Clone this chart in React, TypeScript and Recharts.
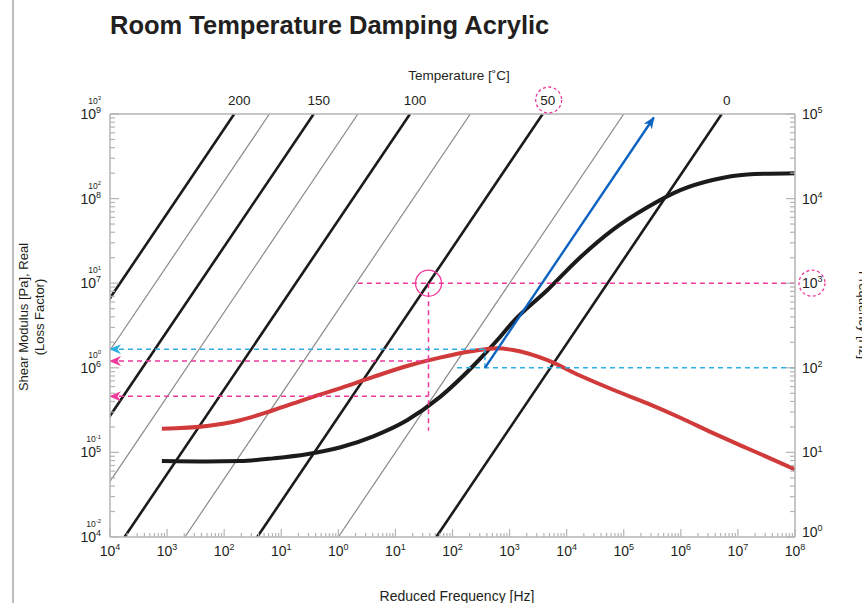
import React from 'react'
import { ComposedChart, Line, XAxis, YAxis, ReferenceDot } from 'recharts'

// isotherms: temperature [°C] and shift factor aT (reduced freq = freq * aT)
const TEMPS = [200, 175, 150, 125, 100, 75, 50, 25, 0]
const SHIFT = [1.5e-7, 6.2e-7, 3.7e-6, 2.2e-5, 1.8e-4, 2.05e-3, 0.038, 1, 52]

// master curves vs reduced frequency [Hz]
const FREQ = [8.1e-4, 5.0e-3, 0.019, 0.072, 0.28, 1.1, 4.1, 16, 60, 230, 600, 1150, 4600, 1.7e4, 6.5e4, 2.6e5, 9.8e5, 3.6e6, 1.45e7, 1e8]
const MODULUS = [7.9e4, 7.8e4, 7.9e4, 8.5e4, 9.5e4, 1.15e5, 1.55e5, 2.4e5, 4.5e5, 1.05e6, 2.1e6, 3.5e6, 8.3e6, 2.0e7, 4.3e7, 7.9e7, 1.26e8, 1.66e8, 1.93e8, 2.0e8]
const LOSS = [0.19, 0.205, 0.24, 0.315, 0.43, 0.575, 0.78, 1.05, 1.32, 1.58, 1.7, 1.62, 1.23, 0.81, 0.55, 0.38, 0.257, 0.17, 0.112, 0.063]

// worked example: 50 °C at 1000 Hz
const READ_TEMP = 50
const READ_HZ = 1000
const READ_FR = 38
const READ_LOSS = 1.2
const READ_MOD = 4.6e5
const READ_LINE_FROM = 2.2

// peak loss / room temperature reading
const PEAK_LOSS = 1.66
const PEAK_FR = 370
const ROOM_SHIFT = 3.7
const ROOM_HZ = 100
const ROOM_LINE_FROM = 120
const ARROW_TOP_HZ = 9.1e4

const X_DEC = [-4, -3, -2, -1, 0, 1, 2, 3, 4, 5, 6, 7, 8]
const MOD_DEC = [4, 5, 6, 7, 8, 9]
const HZ_DEC = [0, 1, 2, 3, 4, 5]
const LOSS_OFFSET = 6 // loss factor decade = modulus decade - 6

const X_DOMAIN = [1e-4, 1e8]
const MOD_DOMAIN = [1e4, 1e9]
const LOSS_DOMAIN = [1e-2, 1e3]
const HZ_DOMAIN = [1, 1e5]

const MARGIN = { top: 84, right: 17, bottom: 36, left: 40 }
const LEFT_W = 70
const PLOT_LEFT = MARGIN.left + LEFT_W

const INK = '#231f20'
const AXIS = '#b5b5b5'
const PINK = '#f0399a'
const CYAN = '#2cb0e4'
const BLUE = '#0d63c2'
const RED = '#d13a3a'
const FONT = '"Liberation Sans", Arial, Helvetica, sans-serif'

const withMinor = (decs: number[]) => {
  const out: number[] = []
  decs.forEach((d, i) => {
    out.push(Math.pow(10, d))
    if (i < decs.length - 1) for (let m = 2; m <= 9; m++) out.push(m * Math.pow(10, d))
  })
  return out
}
const decOf = (v: number) => {
  const l = Math.log10(v)
  const e = Math.round(l)
  return { e, major: Math.abs(l - e) < 1e-6 }
}

const curve = FREQ.map((x, i) => ({ x, mod: MODULUS[i], loss: LOSS[i] }))
const isotherms = TEMPS.map((t, i) => ({
  t, major: t % 50 === 0,
  data: [{ x: SHIFT[i] * HZ_DOMAIN[0], y: HZ_DOMAIN[0] }, { x: SHIFT[i] * HZ_DOMAIN[1], y: HZ_DOMAIN[1] }],
}))
const topTicks = isotherms.filter(d => d.major).map(d => d.data[1].x)

const Sup = ({ base, exp, size, supSize }: any) => (
  <>
    <tspan fontSize={size}>{base}</tspan>
    <tspan fontSize={supSize} dy={-size * 0.42}>{exp}</tspan>
  </>
)

const BottomTick = ({ x, y, payload }: any) => {
  const { e, major } = decOf(payload.value)
  return (
    <g>
      <line x1={x} x2={x} y1={y} y2={y - (major ? 8 : 4)} stroke={AXIS} strokeWidth={1.2} />
      {major && (
        <text x={x} y={y + 19} textAnchor="middle" fill={INK} fontFamily={FONT}>
          <Sup base="10" exp={Math.abs(e)} size={14} supSize={9} />
        </text>
      )}
    </g>
  )
}

const LeftTick = ({ y, payload }: any) => {
  const x = PLOT_LEFT
  const { e, major } = decOf(payload.value)
  return (
    <g>
      <line x1={x} x2={x + (major ? 9 : 5)} y1={y} y2={y} stroke={AXIS} strokeWidth={1.2} />
      {major && (
        <>
          <text x={x - 9} y={y + 5} textAnchor="end" fill={INK} fontFamily={FONT}>
            <Sup base="10" exp={e} size={14} supSize={9} />
          </text>
          <text x={x - 9} y={y - 10} textAnchor="end" fill={INK} fontFamily={FONT}>
            <Sup base="10" exp={e - LOSS_OFFSET} size={8.5} supSize={6} />
          </text>
        </>
      )}
    </g>
  )
}

const RightTick = ({ x, y, payload }: any) => {
  const { e, major } = decOf(payload.value)
  const ly = e === HZ_DEC[0] ? y - 5 : y
  return (
    <g>
      <line x1={x} x2={x - (major ? 9 : 5)} y1={y} y2={y} stroke={AXIS} strokeWidth={1.2} />
      {major && (
        <text x={x + 7} y={ly + 5} textAnchor="start" fill={INK} fontFamily={FONT}>
          <Sup base="10" exp={e} size={14} supSize={9} />
        </text>
      )}
      {major && payload.value === READ_HZ && (
        <circle cx={x + 17} cy={y} r={13} fill="none" stroke={PINK} strokeWidth={1.3} strokeDasharray="3 2.5" />
      )}
    </g>
  )
}

const TopTick = ({ x, y, payload }: any) => {
  const iso = isotherms.find(d => Math.abs(Math.log10(d.data[1].x / payload.value)) < 1e-6)
  if (!iso) return null
  return (
    <g>
      <text x={x + 5} y={y - 9} textAnchor="middle" fill={INK} fontFamily={FONT} fontSize={13.5}>{iso.t}</text>
      {iso.t === READ_TEMP && (
        <circle cx={x + 6} cy={y - 14} r={13} fill="none" stroke={PINK} strokeWidth={1.3} strokeDasharray="3 2.5" />
      )}
    </g>
  )
}

const AXIS_LINE = { stroke: AXIS, strokeWidth: 1.5 }
const NOANIM = { isAnimationActive: false, dot: false, activeDot: false, xAxisId: 'b', dataKey: 'y', type: 'linear' as const }

export default function App() {
  return (
    <div style={{ position: 'absolute', left: 0, top: 0, width: 862, height: 603, overflow: 'hidden', background: '#fff', fontFamily: FONT, color: INK }}>
      <svg width={0} height={0} style={{ position: 'absolute' }}>
        <defs>
          {[['arrPink', PINK], ['arrCyan', CYAN], ['arrBlue', BLUE]].map(([id, c]) => (
            <marker key={id} id={id} viewBox="0 0 12 10" refX={11} refY={5} markerWidth={12} markerHeight={10}
              markerUnits="userSpaceOnUse" orient="auto-start-reverse">
              <path d="M0,0 L12,5 L0,10 L3.5,5 Z" fill={c} />
            </marker>
          ))}
        </defs>
      </svg>

      <div style={{ position: 'absolute', left: 12, top: 0, width: 2, height: 603, background: '#bdbdbd' }} />
      <div style={{ position: 'absolute', left: 110, top: 11, fontSize: 25.5, fontWeight: 700, whiteSpace: 'nowrap' }}>
        Room Temperature Damping Acrylic
      </div>
      <div style={{ position: 'absolute', left: 459, top: 75, transform: 'translate(-50%,-50%)', fontSize: 13.5, whiteSpace: 'nowrap' }}>
        Temperature [˚C]
      </div>
      <div style={{ position: 'absolute', left: 457, top: 596, transform: 'translate(-50%,-50%)', fontSize: 14, whiteSpace: 'nowrap' }}>
        Reduced Frequency [Hz]
      </div>
      <div style={{ position: 'absolute', left: 32, top: 317, transform: 'translate(-50%,-50%) rotate(-90deg)', fontSize: 13, lineHeight: '16px', textAlign: 'center', whiteSpace: 'nowrap' }}>
        Shear Modulus [Pa], Real<br />(Loss Factor)
      </div>
      <div style={{ position: 'absolute', left: 863, top: 315, transform: 'translate(-50%,-50%) rotate(90deg)', fontSize: 13, whiteSpace: 'nowrap' }}>
        Frequency [Hz]
      </div>

      <div style={{ position: 'absolute', left: 0, top: 0 }}>
        <ComposedChart width={862} height={603} margin={MARGIN}>
          <XAxis xAxisId="b" type="number" dataKey="x" scale="log" domain={X_DOMAIN} allowDataOverflow
            ticks={withMinor(X_DEC)} interval={0} tick={(p: any) => <BottomTick {...p} />}
            tickLine={false} tickSize={0} tickMargin={0} axisLine={AXIS_LINE} height={30} />
          <XAxis xAxisId="t" orientation="top" type="number" dataKey="x" scale="log" domain={X_DOMAIN} allowDataOverflow
            ticks={topTicks} interval={0} tick={(p: any) => <TopTick {...p} />}
            tickLine={false} tickSize={0} tickMargin={0} axisLine={AXIS_LINE} height={30} />
          <YAxis yAxisId="eta" hide width={0} type="number" scale="log" domain={LOSS_DOMAIN} allowDataOverflow />
          <YAxis yAxisId="mod" type="number" scale="log" domain={MOD_DOMAIN} allowDataOverflow
            ticks={withMinor(MOD_DEC)} interval={0} tick={(p: any) => <LeftTick {...p} />}
            tickLine={false} tickSize={0} tickMargin={0} axisLine={AXIS_LINE} width={LEFT_W} />
          <YAxis yAxisId="freq" orientation="right" type="number" scale="log" domain={HZ_DOMAIN} allowDataOverflow
            ticks={withMinor(HZ_DEC)} interval={0} tick={(p: any) => <RightTick {...p} />}
            tickLine={false} tickSize={0} tickMargin={0} axisLine={AXIS_LINE} width={50} />

          {isotherms.map(d => (
            <Line key={d.t} {...NOANIM} yAxisId="freq" data={d.data}
              stroke={d.major ? '#1b1b1b' : '#8a8a8a'} strokeWidth={d.major ? 2.6 : 1.2} />
          ))}

          <Line {...NOANIM} type="monotone" yAxisId="mod" data={curve} dataKey="mod" stroke="#1b1b1b" strokeWidth={4} />
          <Line {...NOANIM} type="monotone" yAxisId="eta" data={curve} dataKey="loss" stroke={RED} strokeWidth={4} />

          {/* example reading at 50 °C / 1000 Hz */}
          <Line {...NOANIM} yAxisId="freq" data={[{ x: READ_LINE_FROM, y: READ_HZ }, { x: X_DOMAIN[1], y: READ_HZ }]}
            stroke={PINK} strokeWidth={1.5} strokeDasharray="5 4" />
          <Line {...NOANIM} yAxisId="freq" data={[{ x: READ_FR, y: READ_HZ }, { x: READ_FR, y: 18 }]}
            stroke={PINK} strokeWidth={1.5} strokeDasharray="5 4" />
          <Line {...NOANIM} yAxisId="eta" data={[{ x: X_DOMAIN[0], y: READ_LOSS }, { x: READ_FR, y: READ_LOSS }]}
            stroke={PINK} strokeWidth={1.5} strokeDasharray="5 4" markerStart="url(#arrPink)" />
          <Line {...NOANIM} yAxisId="mod" data={[{ x: X_DOMAIN[0], y: READ_MOD }, { x: READ_FR, y: READ_MOD }]}
            stroke={PINK} strokeWidth={1.5} strokeDasharray="5 4" markerStart="url(#arrPink)" />

          {/* peak loss reading */}
          <Line {...NOANIM} yAxisId="eta" data={[{ x: X_DOMAIN[0], y: PEAK_LOSS }, { x: PEAK_FR, y: PEAK_LOSS }]}
            stroke={CYAN} strokeWidth={1.5} strokeDasharray="5 4" markerStart="url(#arrCyan)" />
          <Line {...NOANIM} yAxisId="freq" data={[{ x: PEAK_FR, y: PEAK_LOSS * 100 }, { x: PEAK_FR, y: ROOM_HZ }]}
            stroke={CYAN} strokeWidth={1.5} strokeDasharray="4 3" />
          <Line {...NOANIM} yAxisId="freq" data={[{ x: ROOM_LINE_FROM, y: ROOM_HZ }, { x: X_DOMAIN[1], y: ROOM_HZ }]}
            stroke={CYAN} strokeWidth={1.5} strokeDasharray="5 4" />
          <Line {...NOANIM} yAxisId="freq" data={[{ x: ROOM_SHIFT * ROOM_HZ, y: ROOM_HZ }, { x: ROOM_SHIFT * ARROW_TOP_HZ, y: ARROW_TOP_HZ }]}
            stroke={BLUE} strokeWidth={2.4} markerEnd="url(#arrBlue)" />

          <ReferenceDot xAxisId="b" yAxisId="freq" x={READ_FR} y={READ_HZ} r={13} fill="none" stroke={PINK} strokeWidth={1.3} />
        </ComposedChart>
      </div>
    </div>
  )
}
